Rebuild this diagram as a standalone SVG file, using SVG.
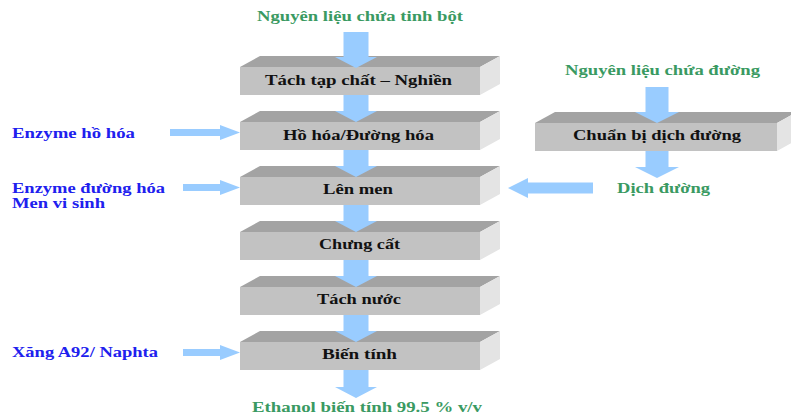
<svg xmlns="http://www.w3.org/2000/svg" width="791" height="417" viewBox="0 0 791 417">
<style>
.top{fill:#a3a3a3}
.front{fill:#c2c2c2}
.side{fill:#e4e4e4}
.arr{fill:#99ccff}
text{font-family:"Liberation Serif","Times New Roman",serif;font-weight:bold;font-size:15px}
.lbl{fill:#111}
.grn{fill:#3a9a62}
.blu{fill:#2020ee}
</style>
<rect width="791" height="417" fill="#ffffff"/>
<defs>
<g id="box">
<polygon class="top" points="240,0 260,-11 500,-11 480,0"/>
<polygon class="side" points="480,0 500,-11 500,17 480,28"/>
<rect class="front" x="240" y="0" width="240" height="28"/>
</g>
</defs>
<g id="n1"><use href="#box" y="67"/><text class="lbl" x="265" y="85" textLength="187" lengthAdjust="spacingAndGlyphs">Tách tạp chất – Nghiền</text></g>
<g id="n2"><use href="#box" y="122"/><text class="lbl" x="283" y="140" textLength="151" lengthAdjust="spacingAndGlyphs">Hồ hóa/Đường hóa</text></g>
<g id="n3"><use href="#box" y="177"/><text class="lbl" x="323" y="194" textLength="70" lengthAdjust="spacingAndGlyphs">Lên men</text></g>
<g id="n4"><use href="#box" y="232"/><text class="lbl" x="319" y="249" textLength="81" lengthAdjust="spacingAndGlyphs">Chưng cất</text></g>
<g id="n5"><use href="#box" y="287"/><text class="lbl" x="317" y="304" textLength="84" lengthAdjust="spacingAndGlyphs">Tách nước</text></g>
<g id="n6"><use href="#box" y="342"/><text class="lbl" x="322" y="359" textLength="75" lengthAdjust="spacingAndGlyphs">Biến tính</text></g>
<g id="n7">
<polygon class="top" points="535,123 555,112 797,112 777,123"/>
<polygon class="side" points="777,123 797,112 797,140 777,151"/>
<rect class="front" x="535" y="123" width="242" height="28"/>
<text class="lbl" x="573" y="140" textLength="168" lengthAdjust="spacingAndGlyphs">Chuẩn bị dịch đường</text>
</g>
<g id="connectors">
<polygon class="arr" points="343.5,32 368.5,32 368.5,57 377,57 356,68 335,57 343.5,57"/>
<polygon class="arr" points="343.5,95 368.5,95 368.5,111 377,111 356,122 335,111 343.5,111"/>
<polygon class="arr" points="343.5,150 368.5,150 368.5,166 377,166 356,177 335,166 343.5,166"/>
<polygon class="arr" points="343.5,205 368.5,205 368.5,221 377,221 356,232 335,221 343.5,221"/>
<polygon class="arr" points="343.5,260 368.5,260 368.5,276 377,276 356,287 335,276 343.5,276"/>
<polygon class="arr" points="343.5,315 368.5,315 368.5,331 377,331 356,342 335,331 343.5,331"/>
<polygon class="arr" points="343.5,370 368.5,370 368.5,387 377,387 356,398 335,387 343.5,387"/>
<polygon class="arr" points="645.5,87 668.5,87 668.5,112 679,112 657,123 635,112 645.5,112"/>
<polygon class="arr" points="645.5,151 668.5,151 668.5,167 679,167 657,178 635,167 645.5,167"/>
<polygon class="arr" points="170,129 220,129 220,125 240,132.5 220,140 220,136 170,136"/>
<polygon class="arr" points="183,184 220,184 220,180 240,187.5 220,195 220,191 183,191"/>
<polygon class="arr" points="183,349 220,349 220,345 240,352.5 220,360 220,356 183,356"/>
<polygon class="arr" points="593,182.5 528,182.5 528,178 508,188 528,198 528,193.5 593,193.5"/>
</g>
<g id="labels">
<text class="grn" x="257" y="21" textLength="206" lengthAdjust="spacingAndGlyphs">Nguyên liệu chứa tinh bột</text>
<text class="grn" x="565" y="75" textLength="195" lengthAdjust="spacingAndGlyphs">Nguyên liệu chứa đường</text>
<text class="grn" x="617" y="193" textLength="93" lengthAdjust="spacingAndGlyphs">Dịch đường</text>
<text class="grn" x="252" y="412" textLength="230" lengthAdjust="spacingAndGlyphs">Ethanol biến tính 99.5 % v/v</text>
<text class="blu" x="12" y="138" textLength="123" lengthAdjust="spacingAndGlyphs">Enzyme hồ hóa</text>
<text class="blu" x="12" y="193" textLength="153" lengthAdjust="spacingAndGlyphs">Enzyme đường hóa</text>
<text class="blu" x="12" y="208" textLength="93" lengthAdjust="spacingAndGlyphs">Men vi sinh</text>
<text class="blu" x="12" y="357" textLength="146" lengthAdjust="spacingAndGlyphs">Xăng A92/ Naphta</text>
</g>
</svg>
